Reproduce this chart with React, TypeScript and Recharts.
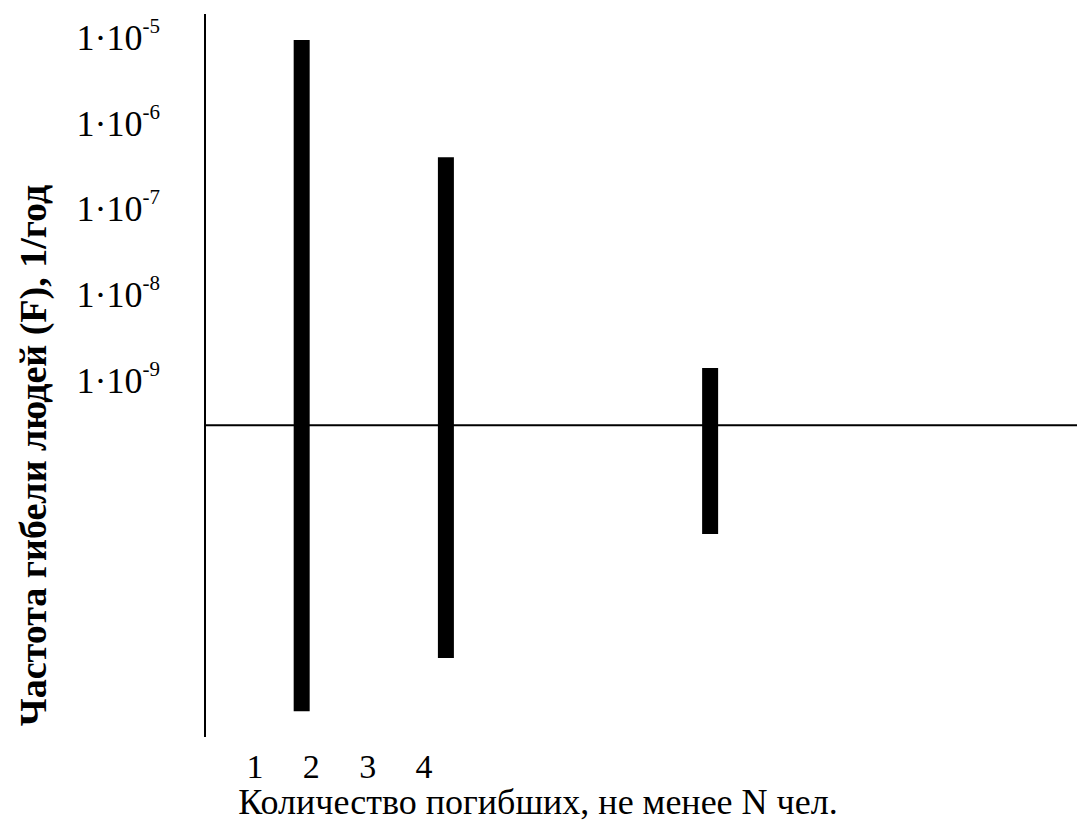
import { Bar, BarChart, ReferenceLine, XAxis, YAxis } from "recharts";

// positions of the bars on the N axis (schematic)
const barX = [1.83, 4.39, 9.08];
// log10 of frequency, lower and upper end of every bar
const barLow = [-12.87, -12.25, -10.8];
const barHigh = [-5.03, -6.4, -8.86];

const xTicks = [1, 2, 3, 4];
const yTicks = [-5, -6, -7, -8, -9];
const baseLevel = -9.53;

const data = barX.map((x, i) => ({ x, range: [barLow[i], barHigh[i]] }));

const font = "'Liberation Serif', 'Times New Roman', serif";

function YTick(props: any) {
  const { x, y, payload } = props;
  return (
    <text x={x - 45} y={y} dy="0.35em" textAnchor="end" fontFamily={font} fontSize={36} fill="#000">
      1·10
      <tspan dy={-17} fontSize={21}>
        {payload.value}
      </tspan>
    </text>
  );
}

function XTick(props: any) {
  const { x, y, payload } = props;
  return (
    <text x={x} y={y} dy="0.35em" textAnchor="middle" fontFamily={font} fontSize={34} fill="#000">
      {payload.value}
    </text>
  );
}

export default function App() {
  return (
    <div style={{ width: 1077, height: 825, overflow: "hidden" }}>
      <style>{"html,body{margin:0;overflow:hidden}"}</style>
      <BarChart
        width={1077}
        height={825}
        data={data}
        margin={{ top: 14, right: 0, left: 0, bottom: 0 }}
      >
        <XAxis
          dataKey="x"
          type="number"
          domain={[0.112, 15.59]}
          ticks={xTicks}
          axisLine={false}
          tickLine={false}
          tickSize={0}
          tickMargin={29}
          height={88}
          tick={<XTick />}
          label={{
            content: (p: any) => {
              const vb = p.viewBox;
              return (
                <text
                  x={vb.x + 333}
                  y={vb.y + 64}
                  dy="0.35em"
                  textAnchor="middle"
                  fontFamily={font}
                  fontSize={36}
                  fill="#000"
                >
                  Количество погибших, не менее N чел.
                </text>
              );
            },
          }}
        />
        <YAxis
          type="number"
          domain={[-13.172, -4.725]}
          ticks={yTicks}
          width={205}
          axisLine={{ stroke: "#000", strokeWidth: 2 }}
          tickLine={false}
          tickSize={0}
          tickMargin={0}
          tick={<YTick />}
          label={{
            content: (p: any) => {
              const vb = p.viewBox;
              const cx = vb.x + 33;
              const cy = vb.y + vb.height / 2 + 80;
              return (
                <text
                  x={cx}
                  y={cy}
                  dy="0.35em"
                  textAnchor="middle"
                  transform={`rotate(-90, ${cx}, ${cy})`}
                  fontFamily={font}
                  fontWeight="bold"
                  fontSize={38}
                  fill="#000"
                >
                  Частота гибели людей (F), 1/год
                </text>
              );
            },
          }}
        />
        <ReferenceLine y={baseLevel} stroke="#000" strokeWidth={2} />
        <Bar dataKey="range" fill="#000" barSize={16} isAnimationActive={false} />
      </BarChart>
    </div>
  );
}
